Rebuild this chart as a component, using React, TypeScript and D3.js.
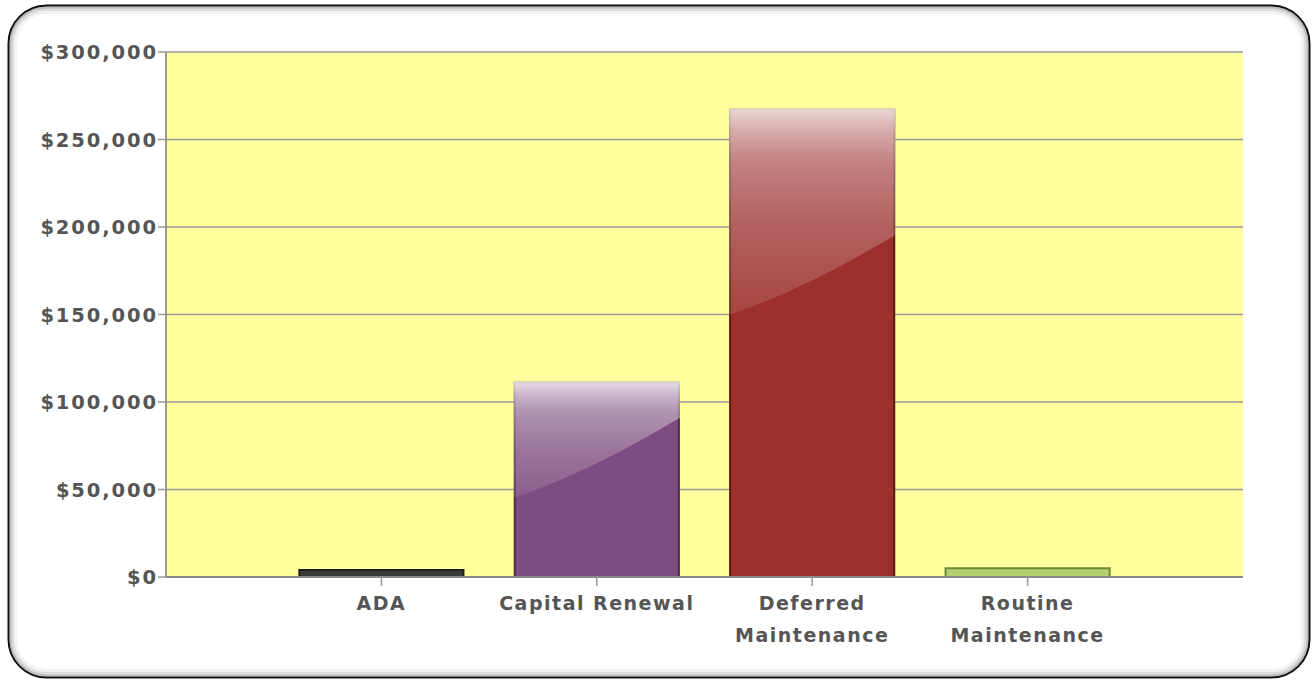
import React, { useRef, useEffect } from 'react'
import * as d3 from 'd3'

// chart values
const categories = ['ADA', 'Capital Renewal', 'Deferred Maintenance', 'Routine Maintenance']
const labelLines = [['ADA'], ['Capital Renewal'], ['Deferred', 'Maintenance'], ['Routine', 'Maintenance']]
const values = [4000, 111000, 267000, 5000]
const yTicks = [0, 50000, 100000, 150000, 200000, 250000, 300000]

const fills = ['#3a3a3a', '#7d4c80', '#9c302d', '#b3cf6e']
const strokes = ['#1e1e1e', '#4a2a4c', '#5c1a12', '#6e8a3a']

function App() {
  const svgRef = useRef(null)

  useEffect(() => {
    const svg = d3.select(svgRef.current)
    svg.selectAll('*').remove()

    const W = 1312
    const H = 680
    const plot = { left: 166, right: 1243, top: 52, bottom: 577 }

    svg.attr('width', W).attr('height', H).style('font-family', '"DejaVu Sans", Verdana, sans-serif')

    //Outer rounded frame with a soft inner shadow
    const frame = svg.append('g')
    ;[
      { inset: 7, color: '#f2f2f2', w: 3 },
      { inset: 4, color: '#dcdcdc', w: 3 },
      { inset: 2, color: '#bcbcbc', w: 2 },
    ].forEach((s) => {
      frame
        .append('rect')
        .attr('x', 8.5 + s.inset)
        .attr('y', 5.5 + s.inset)
        .attr('width', 1301 - 2 * s.inset)
        .attr('height', 672 - 2 * s.inset)
        .attr('rx', 38 - s.inset)
        .attr('fill', 'none')
        .attr('stroke', s.color)
        .attr('stroke-width', s.w)
    })
    frame
      .append('rect')
      .attr('x', 8.5)
      .attr('y', 5.5)
      .attr('width', 1301)
      .attr('height', 672)
      .attr('rx', 38)
      .attr('fill', 'none')
      .attr('stroke', '#111')
      .attr('stroke-width', 2)

    //Scales
    const x = d3.scalePoint<string>().domain(categories).range([plot.left, plot.right]).padding(1)
    const step = x.step()
    const barW = step * 0.762
    const y = d3.scaleLinear().domain([0, 300000]).range([plot.bottom, plot.top])

    //Plot background
    svg
      .append('rect')
      .attr('x', plot.left)
      .attr('y', plot.top)
      .attr('width', plot.right - plot.left)
      .attr('height', plot.bottom - plot.top)
      .attr('fill', '#ffff9e')

    //Gridlines
    svg
      .append('g')
      .selectAll('line')
      .data(yTicks.slice(1))
      .join('line')
      .attr('x1', plot.left)
      .attr('x2', plot.right)
      .attr('y1', (d) => y(d))
      .attr('y2', (d) => y(d))
      .attr('stroke', '#999')
      .attr('stroke-width', 1.5)

    //Gradient defs for bar gloss
    const defs = svg.append('defs')

    const bars = svg.append('g')
    categories.forEach((c, i) => {
      const x0 = (x(c) as number) - barW / 2
      const x1 = x0 + barW
      const yT = y(values[i])
      const h = plot.bottom - yT

      bars
        .append('rect')
        .attr('x', x0)
        .attr('y', yT)
        .attr('width', barW)
        .attr('height', h)
        .attr('fill', fills[i])
        .attr('stroke', strokes[i])
        .attr('stroke-width', 2)

      //gloss only on the tall bars
      if (h > 60) {
        const yR = yT + 0.33 * h - 29
        const yL = yR + 80
        const id = `gloss${i}`
        const g = defs
          .append('linearGradient')
          .attr('id', id)
          .attr('gradientUnits', 'userSpaceOnUse')
          .attr('x1', 0)
          .attr('x2', 0)
          .attr('y1', yT)
          .attr('y2', yL)
        ;[
          [0, 0.8],
          [0.1, 0.6],
          [0.25, 0.4],
          [0.55, 0.24],
          [1, 0.1],
        ].forEach(([o, a]) => {
          g.append('stop').attr('offset', o).attr('stop-color', '#fff').attr('stop-opacity', a)
        })
        const p = d3.path()
        p.moveTo(x0 - 1, yT - 1)
        p.lineTo(x1 + 1, yT - 1)
        p.lineTo(x1 + 1, yR)
        p.quadraticCurveTo(x0 + barW * 0.45, yR + 55, x0 - 1, yL)
        p.closePath()
        bars.append('path').attr('d', p.toString()).attr('fill', `url(#${id})`)
      }
    })

    //Axis lines
    svg
      .append('line')
      .attr('x1', plot.left)
      .attr('x2', plot.left)
      .attr('y1', plot.top)
      .attr('y2', plot.bottom)
      .attr('stroke', '#999')
      .attr('stroke-width', 2)
    svg
      .append('line')
      .attr('x1', plot.left)
      .attr('x2', plot.right)
      .attr('y1', plot.bottom)
      .attr('y2', plot.bottom)
      .attr('stroke', '#888')
      .attr('stroke-width', 2)

    //Y axis ticks + labels
    const yAxis = svg.append('g')
    yAxis
      .selectAll('line')
      .data(yTicks)
      .join('line')
      .attr('x1', plot.left - 8)
      .attr('x2', plot.left)
      .attr('y1', (d) => y(d))
      .attr('y2', (d) => y(d))
      .attr('stroke', '#999')
      .attr('stroke-width', 1.5)
    yAxis
      .selectAll('text')
      .data(yTicks)
      .join('text')
      .attr('x', plot.left - 8)
      .attr('y', (d) => y(d))
      .attr('dy', '0.36em')
      .attr('text-anchor', 'end')
      .attr('font-size', 19.5)
      .attr('font-weight', 'bold')
      .attr('letter-spacing', 1.9)
      .attr('fill', '#555')
      .text((d) => '$' + d3.format(',')(d))

    //X axis ticks + labels
    const xAxis = svg.append('g')
    xAxis
      .selectAll('line')
      .data(categories)
      .join('line')
      .attr('x1', (d) => x(d) as number)
      .attr('x2', (d) => x(d) as number)
      .attr('y1', plot.bottom)
      .attr('y2', plot.bottom + 9)
      .attr('stroke', '#999')
      .attr('stroke-width', 1.5)
    categories.forEach((c, i) => {
      const t = xAxis
        .append('text')
        .attr('text-anchor', 'middle')
        .attr('font-size', 19)
        .attr('font-weight', 'bold')
        .attr('letter-spacing', 1.5)
        .attr('fill', '#555')
      labelLines[i].forEach((line, k) => {
        t.append('tspan')
          .attr('x', x(c) as number)
          .attr('y', 610 + k * 32)
          .text(line)
      })
    })
  }, [])

  return (
    <div style={{ position: 'fixed', left: 0, top: 0, width: 1312, height: 680, background: '#fff' }}>
      <svg ref={svgRef} />
    </div>
  )
}

export default App
